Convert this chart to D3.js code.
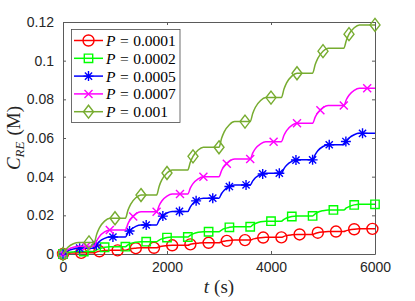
<!DOCTYPE html>
<html>
<head>
<meta charset="utf-8">
<script src="https://cdn.jsdelivr.net/npm/d3@7"></script>
<style>
	body { margin: 0; background: #fff; }
</style>
</head>
<body>
<div id="chart"></div>
<script>
// time samples (s) shared by all five curves
const times = [0, 50, 100, 200, 300, 600, 650, 700, 800, 900, 1200, 1250, 1300, 1400, 1500, 1800, 1850, 1900, 2000, 2100, 2400, 2450, 2500, 2600, 2700, 3000, 3050, 3100, 3200, 3300, 3600, 3650, 3700, 3800, 3900, 4200, 4250, 4300, 4400, 4500, 4800, 4850, 4900, 5000, 5100, 5400, 5450, 5500, 5600, 5700, 6000];

// C_RE (M) for each P
const valsP0001 = [0, 0.0002, 0.0004, 0.0005, 0.0006, 0.0006, 0.0011, 0.0014, 0.0017, 0.0019, 0.0019, 0.0024, 0.0027, 0.003, 0.0032, 0.0032, 0.0037, 0.004, 0.0043, 0.0045, 0.0045, 0.005, 0.0053, 0.0056, 0.0058, 0.0058, 0.0063, 0.0066, 0.007, 0.0072, 0.0072, 0.0077, 0.008, 0.0084, 0.0086, 0.0086, 0.0091, 0.0095, 0.0099, 0.0101, 0.0101, 0.0106, 0.011, 0.0114, 0.0116, 0.0116, 0.0121, 0.0124, 0.0128, 0.013, 0.013];
const valsP0002 = [0, 0.0005, 0.0008, 0.0011, 0.0013, 0.0013, 0.0022, 0.0028, 0.0035, 0.0038, 0.0038, 0.0047, 0.0054, 0.0061, 0.0064, 0.0064, 0.0072, 0.0078, 0.0085, 0.0088, 0.0088, 0.0097, 0.0104, 0.0112, 0.0115, 0.0115, 0.0124, 0.0131, 0.0138, 0.0141, 0.0141, 0.0151, 0.0158, 0.0167, 0.017, 0.017, 0.0179, 0.0186, 0.0194, 0.0197, 0.0197, 0.0208, 0.0216, 0.0224, 0.0228, 0.0228, 0.0238, 0.0245, 0.0254, 0.0257, 0.0257];
const valsP0005 = [0, 0.0011, 0.0018, 0.0026, 0.003, 0.003, 0.005, 0.0065, 0.0081, 0.0088, 0.0088, 0.011, 0.0125, 0.0143, 0.015, 0.015, 0.0175, 0.0192, 0.0212, 0.022, 0.022, 0.0244, 0.0261, 0.0281, 0.0289, 0.0289, 0.0313, 0.033, 0.0349, 0.0357, 0.0357, 0.0378, 0.0394, 0.0411, 0.0418, 0.0418, 0.0442, 0.0459, 0.0479, 0.0487, 0.0487, 0.0514, 0.0534, 0.0556, 0.0565, 0.0565, 0.0586, 0.06, 0.0617, 0.0624, 0.0624];
const valsP0007 = [0, 0.0014, 0.0024, 0.0035, 0.004, 0.004, 0.0069, 0.009, 0.0114, 0.0124, 0.0124, 0.0157, 0.0181, 0.0208, 0.0219, 0.0219, 0.0251, 0.0274, 0.0299, 0.031, 0.031, 0.0342, 0.0364, 0.0389, 0.04, 0.04, 0.0432, 0.0455, 0.048, 0.0491, 0.0491, 0.0523, 0.0545, 0.057, 0.0581, 0.0581, 0.0614, 0.0638, 0.0665, 0.0676, 0.0676, 0.0708, 0.0731, 0.0757, 0.0768, 0.0768, 0.0799, 0.0821, 0.0846, 0.0857, 0.0857];
const valsP001 = [0, 0.0021, 0.0036, 0.0053, 0.006, 0.006, 0.0104, 0.0135, 0.017, 0.0185, 0.0185, 0.0227, 0.0257, 0.0291, 0.0305, 0.0305, 0.0351, 0.0383, 0.0419, 0.0435, 0.0435, 0.0476, 0.0505, 0.0538, 0.0552, 0.0552, 0.0599, 0.0632, 0.0669, 0.0685, 0.0685, 0.0728, 0.0759, 0.0794, 0.0809, 0.0809, 0.0853, 0.0885, 0.092, 0.0935, 0.0935, 0.098, 0.1012, 0.1049, 0.1064, 0.1064, 0.1106, 0.1137, 0.117, 0.1185, 0.1185];

// marker positions along each curve
const markTimesP0001 = [0, 350, 700, 1050, 1400, 1750, 2100, 2450, 2800, 3150, 3500, 3850, 4200, 4550, 4900, 5250, 5600, 5950];
const markValsP0001 = [0, 0.0006, 0.0014, 0.0019, 0.003, 0.0032, 0.0045, 0.005, 0.0058, 0.0068, 0.0072, 0.0085, 0.0086, 0.0101, 0.011, 0.0116, 0.0128, 0.013];
const markTimesP0002 = [0, 400, 800, 1200, 1600, 2000, 2400, 2800, 3200, 3600, 4000, 4400, 4800, 5200, 5600, 6000];
const markValsP0002 = [0, 0.0013, 0.0035, 0.0038, 0.0064, 0.0085, 0.0088, 0.0115, 0.0138, 0.0141, 0.017, 0.0194, 0.0197, 0.0228, 0.0254, 0.0257];
const markTimesP0005 = [0, 320, 640, 960, 1280, 1600, 1920, 2240, 2560, 2880, 3200, 3520, 3840, 4160, 4480, 4800, 5120, 5440, 5760];
const markValsP0005 = [0, 0.003, 0.0047, 0.0088, 0.0119, 0.015, 0.0196, 0.022, 0.0275, 0.0289, 0.0349, 0.0357, 0.0414, 0.0418, 0.0486, 0.0487, 0.0565, 0.0582, 0.0624];
const markTimesP0007 = [0, 450, 900, 1350, 1800, 2250, 2700, 3150, 3600, 4050, 4500, 4950, 5400, 5850];
const markValsP0007 = [0, 0.004, 0.0124, 0.0194, 0.0219, 0.031, 0.04, 0.0467, 0.0491, 0.0581, 0.0676, 0.0744, 0.0768, 0.0857];
const markTimesP001 = [0, 500, 1000, 1500, 2000, 2500, 3000, 3500, 4000, 4500, 5000, 5500, 6000];
const markValsP001 = [0, 0.006, 0.0185, 0.0305, 0.0419, 0.0505, 0.0552, 0.0685, 0.0809, 0.0935, 0.1049, 0.1137, 0.1185];

const seriesLabels = ["0.0001", "0.0002", "0.0005", "0.0007", "0.001"];
const xTicks = [0, 2000, 4000, 6000];
const yTicks = [0, 0.02, 0.04, 0.06, 0.08, 0.1, 0.12];
const yTickLabels = ["0", "0.02", "0.04", "0.06", "0.08", "0.1", "0.12"];

const series = [
	{ vals: valsP0001, mt: markTimesP0001, mv: markValsP0001, color: "#ff0000", shape: "circle" },
	{ vals: valsP0002, mt: markTimesP0002, mv: markValsP0002, color: "#00ff00", shape: "square" },
	{ vals: valsP0005, mt: markTimesP0005, mv: markValsP0005, color: "#0000ff", shape: "star" },
	{ vals: valsP0007, mt: markTimesP0007, mv: markValsP0007, color: "#ff00ff", shape: "cross" },
	{ vals: valsP001, mt: markTimesP001, mv: markValsP001, color: "#77ac30", shape: "diamond" },
];

let width = 415,
	height = 301;
let plotLeft = 63,
	plotRight = 375,
	plotTop = 22,
	plotBottom = 254;

let svg = d3.select("#chart").append("svg").attr("width", width).attr("height", height);

let x = d3.scaleLinear().domain([0, 6000]).range([plotLeft, plotRight]);
let y = d3.scaleLinear().domain([0, 0.12]).range([plotBottom, plotTop]);

const axisColor = "#5a5a5a";
const labelColor = "#262626";
const sansFont = "'Liberation Sans', Arial, sans-serif";
const serifFont = "'Liberation Serif', 'Times New Roman', serif";

// axes (ticks point inward, box on)
let xAxis = d3.axisBottom(x).tickValues(xTicks).tickFormat(d3.format("d")).tickSizeInner(-3).tickSizeOuter(0).tickPadding(8);
let yAxis = d3.axisLeft(y).tickValues(yTicks).tickFormat((d, i) => yTickLabels[i]).tickSizeInner(-3).tickSizeOuter(0).tickPadding(9);
let xTop = d3.axisTop(x).tickValues(xTicks).tickFormat("").tickSizeInner(-3).tickSizeOuter(0);
let yRight = d3.axisRight(y).tickValues(yTicks).tickFormat("").tickSizeInner(-3).tickSizeOuter(0);

svg.append("g").attr("transform", `translate(0,${plotBottom})`).call(xAxis);
svg.append("g").attr("transform", `translate(${plotLeft},0)`).call(yAxis);
svg.append("g").attr("transform", `translate(0,${plotTop})`).call(xTop);
svg.append("g").attr("transform", `translate(${plotRight},0)`).call(yRight);

svg.selectAll(".domain, .tick line").attr("stroke", axisColor).attr("stroke-width", 1);
svg.selectAll(".tick text").attr("fill", labelColor).style("font-family", sansFont).style("font-size", "14px");

function markerPath(shape) {
	switch (shape) {
		case "star":
			return "M-5,0H5M0,-5V5M-3.6,-3.6L3.6,3.6M-3.6,3.6L3.6,-3.6";
		case "cross":
			return "M-4,-4L4,4M-4,4L4,-4";
		case "diamond":
			return "M0,-6.5L5,0L0,6.5L-5,0Z";
		case "square":
			return "M-4.2,-4.2H4.2V4.2H-4.2Z";
		default:
			return d3.symbol(d3.symbolCircle, 95)();
	}
}

let line = d3
	.line()
	.x((d, i) => x(times[i]))
	.y((d) => y(d))
	.curve(d3.curveMonotoneX);

series.forEach((s) => {
	let g = svg.append("g");
	g.append("path").attr("d", line(s.vals)).attr("fill", "none").attr("stroke", s.color).attr("stroke-width", 1.5);
	g.selectAll("path.mark")
		.data(s.mv)
		.enter()
		.append("path")
		.attr("class", "mark")
		.attr("d", markerPath(s.shape))
		.attr("transform", (d, i) => `translate(${x(s.mt[i])},${y(d)})`)
		.attr("fill", "none")
		.attr("stroke", s.color)
		.attr("stroke-width", 1.4);
});

// legend
let legend = svg.append("g").attr("id", "legend");
legend.append("rect").attr("x", 71.5).attr("y", 29.5).attr("width", 108.5).attr("height", 93).attr("fill", "#fff").attr("stroke", "#4a4a4a").attr("stroke-width", 0.8);

series.forEach((s, i) => {
	let ly = 40.5 + i * 17.8;
	legend.append("line").attr("x1", 74).attr("x2", 103).attr("y1", ly).attr("y2", ly).attr("stroke", s.color).attr("stroke-width", 1.5);
	legend
		.append("path")
		.attr("d", markerPath(s.shape))
		.attr("transform", `translate(88.5,${ly})`)
		.attr("fill", "none")
		.attr("stroke", s.color)
		.attr("stroke-width", 1.4);
	let t = legend
		.append("text")
		.attr("x", 106)
		.attr("y", ly + 5.5)
		.attr("fill", "#000")
		.style("font-family", serifFont)
		.style("font-size", "15.5px");
	t.append("tspan").style("font-style", "italic").text("P");
	t.append("tspan").attr("dx", 4.5).text("=");
	t.append("tspan").attr("dx", 4.5).text(seriesLabels[i]);
});

// axis labels
let xLabel = svg
	.append("text")
	.attr("x", (plotLeft + plotRight) / 2)
	.attr("y", 293)
	.attr("text-anchor", "middle")
	.attr("fill", labelColor)
	.style("font-family", serifFont)
	.style("font-size", "19px");
xLabel.append("tspan").style("font-style", "italic").text("t");
xLabel.append("tspan").attr("dx", 5).text("(s)");

let yLabel = svg
	.append("text")
	.attr("transform", `translate(20,${(plotTop + plotBottom) / 2}) rotate(-90)`)
	.attr("text-anchor", "middle")
	.attr("fill", labelColor)
	.style("font-family", serifFont)
	.style("font-size", "19px");
yLabel.append("tspan").style("font-style", "italic").text("C");
yLabel.append("tspan").attr("dy", 4).style("font-style", "italic").style("font-size", "13px").text("RE");
yLabel.append("tspan").attr("dy", -4).attr("dx", 6).text("(M)");
</script>
</body>
</html>
